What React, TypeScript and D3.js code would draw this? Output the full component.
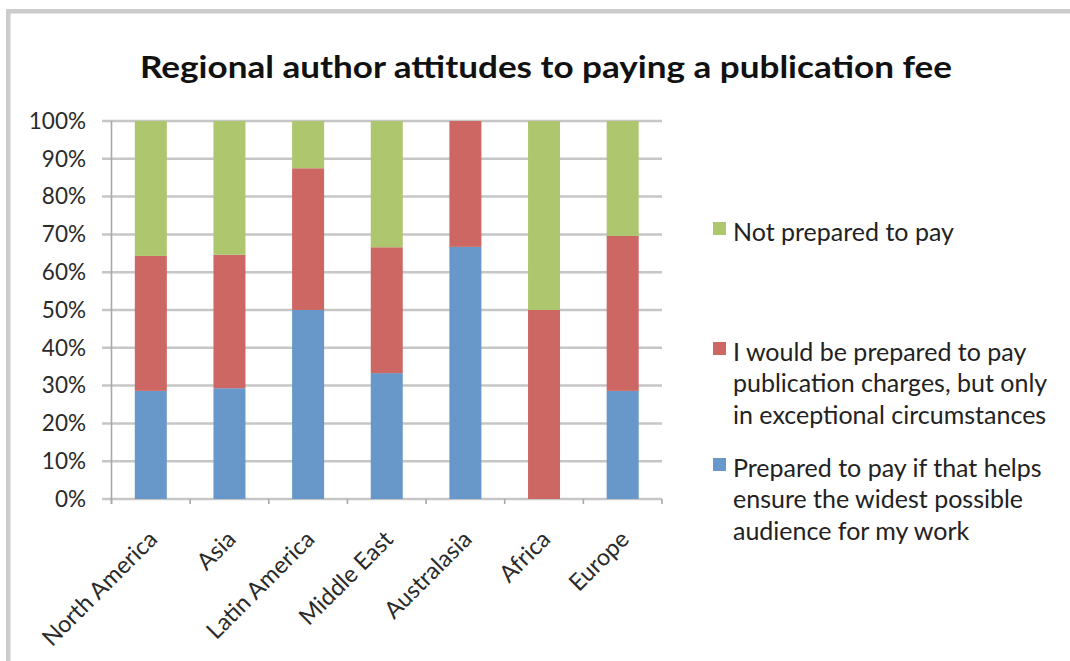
import React from "react";
import * as d3 from "d3";

// Regions along the x axis
const regions = [
  "North America",
  "Asia",
  "Latin America",
  "Middle East",
  "Australasia",
  "Africa",
  "Europe",
];

// Share of respondents per answer (percent), stacked bottom to top
const preparedToPay = [28.6, 29.3, 50.0, 33.3, 66.7, 0, 28.6];
const onlyExceptional = [35.7, 35.3, 37.5, 33.3, 33.3, 50.0, 41.0];
const notPrepared = [35.7, 35.4, 12.5, 33.4, 0, 50.0, 30.4];

const yTicks = [0, 10, 20, 30, 40, 50, 60, 70, 80, 90, 100];

const seriesNames = ["prepared", "exceptional", "not"];
const seriesColors = ["#6897c9", "#cd6764", "#aec76f"];
const legendLines = [
  ["Prepared to pay if that helps", "ensure the widest possible", "audience for my work"],
  ["I would be prepared to pay", "publication charges, but only", "in exceptional circumstances"],
  ["Not prepared to pay"],
];

const title = "Regional author attitudes to paying a publication fee";

const W = 1070;
const H = 661;
const FONT = "Lato, 'Open Sans', 'DejaVu Sans', sans-serif";

export default function App() {
  const plotLeft = 111.5;
  const plotRight = 662;
  const plotTop = 121;
  const plotBottom = 499;

  const x = d3
    .scaleBand<string>()
    .domain(regions)
    .range([plotLeft, plotRight])
    .paddingInner(0.593)
    .paddingOuter(0.2965);

  const y = d3.scaleLinear().domain([0, 100]).range([plotBottom, plotTop]);

  const rows = regions.map((r, i) => ({
    region: r,
    prepared: preparedToPay[i],
    exceptional: onlyExceptional[i],
    not: notPrepared[i],
  }));
  const stacked = d3.stack<any>().keys(seriesNames)(rows);

  const step = x.step();
  const boundaries = d3.range(regions.length + 1).map((i) => plotLeft + i * step);

  // legend layout: entries listed top to bottom in reverse stacking order
  const legendEntries = [
    { color: seriesColors[2], lines: legendLines[2], y: 232 },
    { color: seriesColors[1], lines: legendLines[1], y: 352 },
    { color: seriesColors[0], lines: legendLines[0], y: 468 },
  ];
  const lineH = 31.7;

  return (
    <svg
      width={W}
      height={H}
      style={{ position: "absolute", left: 0, top: 0, background: "#fff" }}
      fontFamily={FONT}
    >
      {/* chart frame */}
      <rect x={6} y={9} width={W} height={4.5} fill="#cccccc" />
      <rect x={6} y={9} width={4.5} height={H} fill="#cccccc" />

      <text
        x={546}
        y={78}
        textAnchor="middle"
        fontSize={30}
        fontWeight="bold"
        fill="#111"
        textLength={812}
        lengthAdjust="spacingAndGlyphs"
      >
        {title}
      </text>

      {/* horizontal gridlines */}
      {yTicks.map((t) => (
        <line
          key={t}
          x1={102}
          x2={plotRight}
          y1={y(t)}
          y2={y(t)}
          stroke="#c6c6c6"
          strokeWidth={2.5}
        />
      ))}
      {/* y axis line */}
      <line x1={plotLeft} x2={plotLeft} y1={plotTop} y2={plotBottom + 5} stroke="#a8a8a8" strokeWidth={1.6} />
      {/* x axis tick marks */}
      {boundaries.map((bx, i) => (
        <line key={i} x1={bx} x2={bx} y1={plotBottom} y2={plotBottom + 5} stroke="#a8a8a8" strokeWidth={1.6} />
      ))}

      {/* y tick labels */}
      {yTicks.map((t) => (
        <text
          key={t}
          x={86}
          y={y(t)}
          dy="0.35em"
          textAnchor="end"
          fontSize={22.5}
          fill="#2a2a2a"
        >
          {t}%
        </text>
      ))}

      {/* stacked bars */}
      {stacked.map((s, si) => (
        <g key={s.key} fill={seriesColors[si]}>
          {s.map((d, i) =>
            d[1] - d[0] > 0 ? (
              <rect
                key={i}
                x={x(regions[i])}
                y={y(d[1])}
                width={x.bandwidth()}
                height={y(d[0]) - y(d[1])}
              />
            ) : null
          )}
        </g>
      ))}

      {/* rotated category labels */}
      {regions.map((r) => {
        const cx = (x(r) as number) + x.bandwidth() / 2;
        return (
          <text
            key={r}
            transform={`translate(${cx + 2},${plotBottom + 36}) rotate(-45)`}
            textAnchor="end"
            dy="0.35em"
            fontSize={23.5}
            fill="#2a2a2a"
          >
            {r}
          </text>
        );
      })}

      {/* legend */}
      {legendEntries.map((e, i) => (
        <g key={i}>
          <rect x={713} y={e.y - 10} width={13} height={13} fill={e.color} />
          {e.lines.map((ln, j) => (
            <text key={j} x={733} y={e.y + j * lineH} dy="0.35em" fontSize={25} fill="#222">
              {ln}
            </text>
          ))}
        </g>
      ))}
    </svg>
  );
}
